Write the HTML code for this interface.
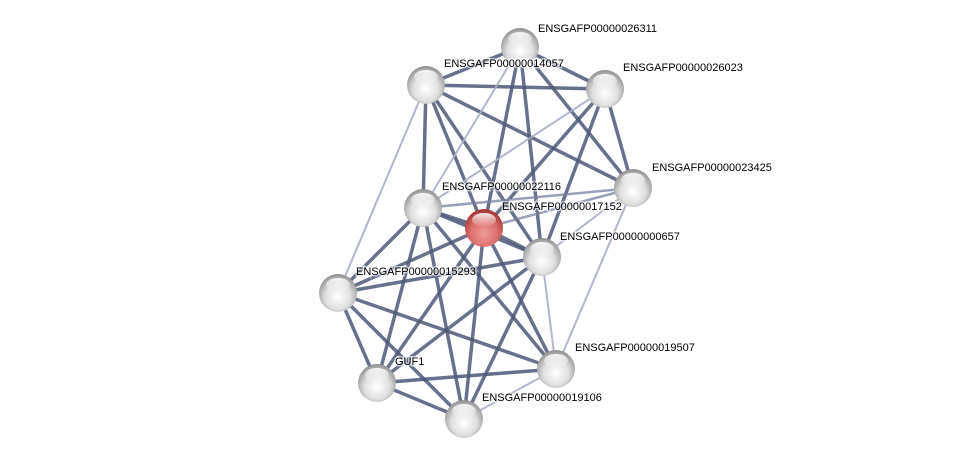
<!DOCTYPE html>
<html><head><meta charset="utf-8"><style>
html,body{margin:0;padding:0;background:#fff;width:976px;height:464px;overflow:hidden}
text{font-family:"Liberation Sans",sans-serif;font-size:11px;fill:#000}
</style></head><body>
<svg width="976" height="464" xmlns="http://www.w3.org/2000/svg">
<defs>
<radialGradient id="g" cx="0.5" cy="0.6" r="0.6">
<stop offset="0" stop-color="#ffffff"/><stop offset="0.55" stop-color="#e0e0e0"/><stop offset="1" stop-color="#8e8e8e"/></radialGradient>
<radialGradient id="r" cx="0.5" cy="0.65" r="0.6">
<stop offset="0" stop-color="#f29a9a"/><stop offset="0.6" stop-color="#dd6d6d"/><stop offset="1" stop-color="#a83c3c"/></radialGradient>
<linearGradient id="h" x1="0" y1="0" x2="0" y2="1"><stop offset="0" stop-color="#fff" stop-opacity="0.9"/><stop offset="1" stop-color="#fff" stop-opacity="0"/></linearGradient>
</defs>
<g stroke="#4e5878" stroke-width="3.5" stroke-opacity="0.85" stroke-linecap="round">
<line x1="426" y1="85" x2="605" y2="89"/><line x1="426" y1="85" x2="520" y2="47"/>
<line x1="426" y1="85" x2="423" y2="208"/><line x1="426" y1="85" x2="484" y2="228"/>
<line x1="426" y1="85" x2="542" y2="257"/><line x1="426" y1="85" x2="633" y2="188"/>
<line x1="520" y1="47" x2="605" y2="89"/><line x1="520" y1="47" x2="484" y2="228"/>
<line x1="520" y1="47" x2="542" y2="257"/><line x1="520" y1="47" x2="633" y2="188"/>
<line x1="605" y1="89" x2="484" y2="228"/><line x1="605" y1="89" x2="542" y2="257"/>
<line x1="605" y1="89" x2="633" y2="188"/>
<line x1="423" y1="208" x2="484" y2="228"/><line x1="423" y1="208" x2="542" y2="257"/>
<line x1="423" y1="208" x2="338" y2="293"/><line x1="423" y1="208" x2="377" y2="383"/>
<line x1="423" y1="208" x2="464" y2="419"/><line x1="423" y1="208" x2="556" y2="369"/>
<line x1="484" y1="228" x2="542" y2="257"/><line x1="484" y1="228" x2="338" y2="293"/>
<line x1="484" y1="228" x2="377" y2="383"/><line x1="484" y1="228" x2="464" y2="419"/>
<line x1="484" y1="228" x2="556" y2="369"/>
<line x1="542" y1="257" x2="338" y2="293"/><line x1="542" y1="257" x2="377" y2="383"/>
<line x1="542" y1="257" x2="464" y2="419"/>
<line x1="338" y1="293" x2="377" y2="383"/><line x1="338" y1="293" x2="464" y2="419"/>
<line x1="338" y1="293" x2="556" y2="369"/>
<line x1="377" y1="383" x2="464" y2="419"/><line x1="377" y1="383" x2="556" y2="369"/>
</g>
<g stroke="#7880a0" stroke-width="2.5" stroke-opacity="0.75">
<line x1="423" y1="208" x2="633" y2="188"/><line x1="484" y1="228" x2="633" y2="188"/>
</g>
<g stroke="#a8aec4" stroke-width="2" stroke-opacity="0.9">
<line x1="426" y1="85" x2="338" y2="293"/><line x1="520" y1="47" x2="423" y2="208"/>
<line x1="605" y1="89" x2="423" y2="208"/><line x1="633" y1="188" x2="542" y2="257"/>
<line x1="633" y1="188" x2="556" y2="369"/><line x1="542" y1="257" x2="556" y2="369"/>
<line x1="464" y1="419" x2="556" y2="369"/>
</g>
<g>
<circle cx="520" cy="47" r="19" fill="url(#g)"/>
<circle cx="426" cy="85" r="19" fill="url(#g)"/>
<circle cx="605" cy="89" r="19" fill="url(#g)"/>
<circle cx="423" cy="208" r="19" fill="url(#g)"/>
<circle cx="484" cy="228" r="19" fill="url(#r)"/>
<circle cx="542" cy="257" r="19" fill="url(#g)"/>
<circle cx="338" cy="293" r="19" fill="url(#g)"/>
<circle cx="556" cy="369" r="19" fill="url(#g)"/>
<circle cx="377" cy="383" r="19" fill="url(#g)"/>
<circle cx="464" cy="419" r="19" fill="url(#g)"/>
</g>
<g fill="url(#h)">
<ellipse cx="520" cy="39" rx="12" ry="7"/><ellipse cx="426" cy="77" rx="12" ry="7"/>
<ellipse cx="605" cy="81" rx="12" ry="7"/>
<ellipse cx="423" cy="200" rx="12" ry="7"/><ellipse cx="484" cy="220" rx="12" ry="7"/>
<ellipse cx="542" cy="249" rx="12" ry="7"/><ellipse cx="338" cy="285" rx="12" ry="7"/>
<ellipse cx="556" cy="361" rx="12" ry="7"/><ellipse cx="377" cy="375" rx="12" ry="7"/>
<ellipse cx="464" cy="411" rx="12" ry="7"/>
</g>
<g stroke="#fff" stroke-width="3" stroke-opacity="0.6" paint-order="stroke">
<text x="538" y="32">ENSGAFP00000026311</text>
<text x="444" y="67">ENSGAFP00000014057</text>
<text x="623" y="71">ENSGAFP00000026023</text>
<text x="652" y="171">ENSGAFP00000023425</text>
<text x="442" y="190">ENSGAFP00000022116</text>
<text x="502" y="210">ENSGAFP00000017152</text>
<text x="560" y="240">ENSGAFP00000000657</text>
<text x="356" y="275">ENSGAFP00000015293</text>
<text x="575" y="351">ENSGAFP00000019507</text>
<text x="395" y="365">GUF1</text>
<text x="482" y="401">ENSGAFP00000019106</text>
</g>
<circle cx="633" cy="188" r="19" fill="url(#g)"/>
<ellipse cx="633" cy="180" rx="12" ry="7" fill="url(#h)"/>
</svg>
</body></html>
